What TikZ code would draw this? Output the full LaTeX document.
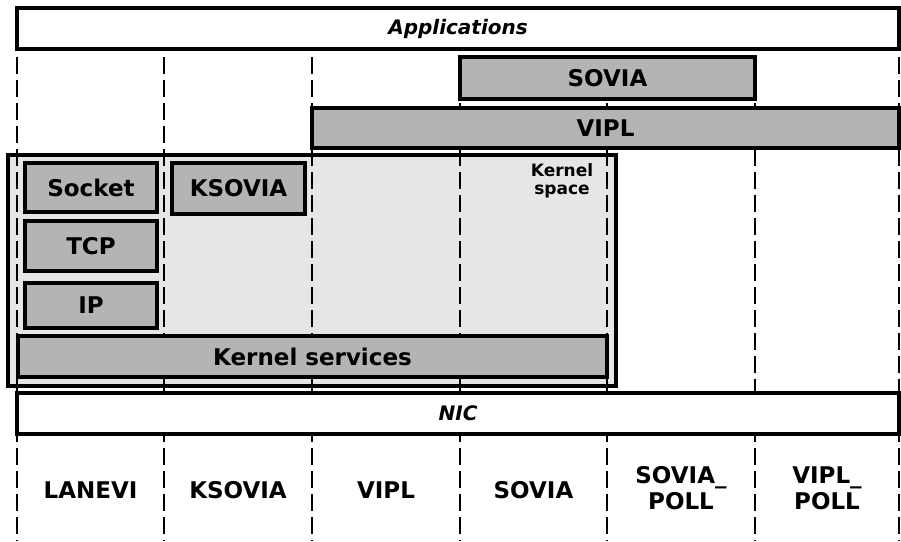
\documentclass[tikz,border=0pt]{standalone}
\usepackage{fontspec}
\setmainfont{DejaVu Sans}
\definecolor{boxgray}{HTML}{B4B4B4}
\definecolor{ksgray}{HTML}{E6E6E6}
\tikzset{
  box/.style={draw=black, line width=3.3pt, inner sep=0pt, fill=white},
  gbox/.style={box, fill=boxgray, font=\bfseries\fontsize{23}{24}\selectfont},
  wbox/.style={box, font=\bfseries\itshape\fontsize{20}{22}\selectfont},
  divider/.style={line width=2.4pt, dash pattern=on 17pt off 6pt},
  collabel/.style={font=\bfseries\fontsize{23}{26}\selectfont, align=center}
}
\begin{document}
\begin{tikzpicture}[x=1pt,y=-1pt]
\useasboundingbox (0,0) rectangle (901,541);
% kernel space background
\fill[ksgray] (8,155) rectangle (616,386);
% column dividers
\foreach \cx in {17,164,312,460,607,755,899}
  \draw[divider] (\cx,57) -- (\cx,541);
% kernel space frame
\node[draw=black, line width=3.3pt, inner sep=0pt, minimum width=608pt, minimum height=231pt] (kspace) at (312,270.5) {};
\node[font=\bfseries\fontsize{17}{18}\selectfont, align=center] (kslabel) at (562,181) {Kernel\\space};
% boxes
\node[wbox, minimum width=882pt, minimum height=41pt] (apps) at (458,28.5) {Applications};
\node[gbox, minimum width=295pt, minimum height=42pt] (sovia) at (607.5,78) {SOVIA};
\node[gbox, minimum width=587pt, minimum height=40pt] (vipl) at (605.5,128) {VIPL};
\node[gbox, minimum width=132pt, minimum height=49pt] (socket) at (91,187.5) {Socket};
\node[gbox, minimum width=132pt, minimum height=50pt] (tcp) at (91,246) {TCP};
\node[gbox, minimum width=132pt, minimum height=45pt] (ip) at (91,305.5) {IP};
\node[gbox, minimum width=133pt, minimum height=51pt] (ksovia) at (238.5,188.5) {KSOVIA};
\node[gbox, minimum width=589pt, minimum height=41pt] (kserv) at (312.5,356.5) {Kernel services};
\node[wbox, minimum width=882pt, minimum height=41pt] (nic) at (458,413.5) {NIC};
% column labels
\node[collabel] (lanevi) at (90.5,490) {LANEVI};
\node[collabel] (lksovia) at (238,490) {KSOVIA};
\node[collabel] (lvipl) at (386,490) {VIPL};
\node[collabel] (lsovia) at (533.5,490) {SOVIA};
\node[collabel] (lsoviapoll) at (681,488) {SOVIA\_\\POLL};
\node[collabel] (lviplpoll) at (827,488) {VIPL\_\\POLL};
\end{tikzpicture}
\end{document}
